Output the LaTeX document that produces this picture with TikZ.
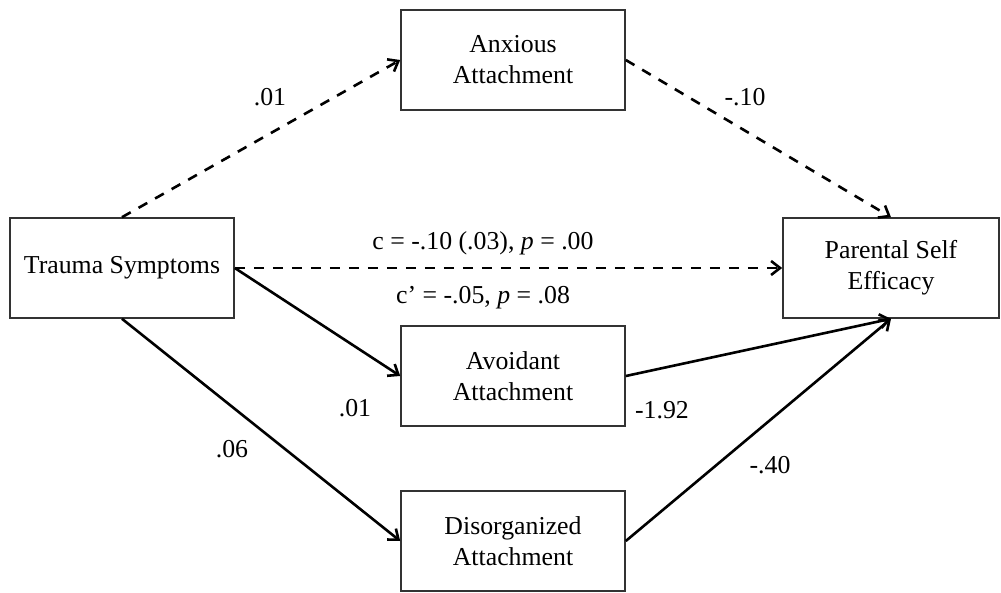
\documentclass[tikz,border=0pt]{standalone}
\usepackage{fontspec}
\setmainfont{Liberation Serif}
\usetikzlibrary{arrows.meta}

\begin{document}
\begin{tikzpicture}[x=0.5pt,y=-0.5pt,
  box/.style={draw=black!80,line width=0.8pt,minimum width=112pt,minimum height=50pt,
    align=center,inner sep=0pt,font=\fontsize{12.9}{15.5}\selectfont},
  lbl/.style={font=\fontsize{12.9}{15.5}\selectfont,inner sep=0pt},
  link/.style={line width=1.3pt,-{Straight Barb[length=4.5pt,width=7pt]}},
  dlink/.style={link,dash pattern=on 5pt off 4.5pt}]
\useasboundingbox (0,0) rectangle (1001,593);

 \node[box] (trauma) at (122,268) {Trauma Symptoms};
 \node[box] (anx) at (513,60) {Anxious\\Attachment};
 \node[box] (avo) at (513,376) {Avoidant\\Attachment};
 \node[box] (dis) at (513,541) {Disorganized\\Attachment};
 \node[box,minimum width=108pt] (pse) at (891,268) {Parental Self\\Efficacy};

 \draw[dlink] (trauma.north) -- (anx.west);
 \draw[dlink] (anx.east) -- (pse.north);
 \draw[dlink] (trauma.east) -- (pse.west);
 \draw[link] (trauma.east) -- (avo.west);
 \draw[link] (trauma.south) -- (dis.west);
 \draw[link] (avo.east) -- (pse.south);
 \draw[link] (dis.east) -- (pse.south);

 \node[lbl] (a1) at (270,97) {.01};
 \node[lbl] (b1) at (745,97) {-.10};
 \node[lbl] (c) at (483,243) {c = -.10 (.03), \textit{p} = .00};
 \node[lbl] (cp) at (483,298) {c’ = -.05, \textit{p} = .08};
 \node[lbl] (a2) at (355,408) {.01};
 \node[lbl] (b2) at (662,410) {-1.92};
 \node[lbl] (a3) at (232,449) {.06};
 \node[lbl] (b3) at (770,465) {-.40};
\end{tikzpicture}
\end{document}
